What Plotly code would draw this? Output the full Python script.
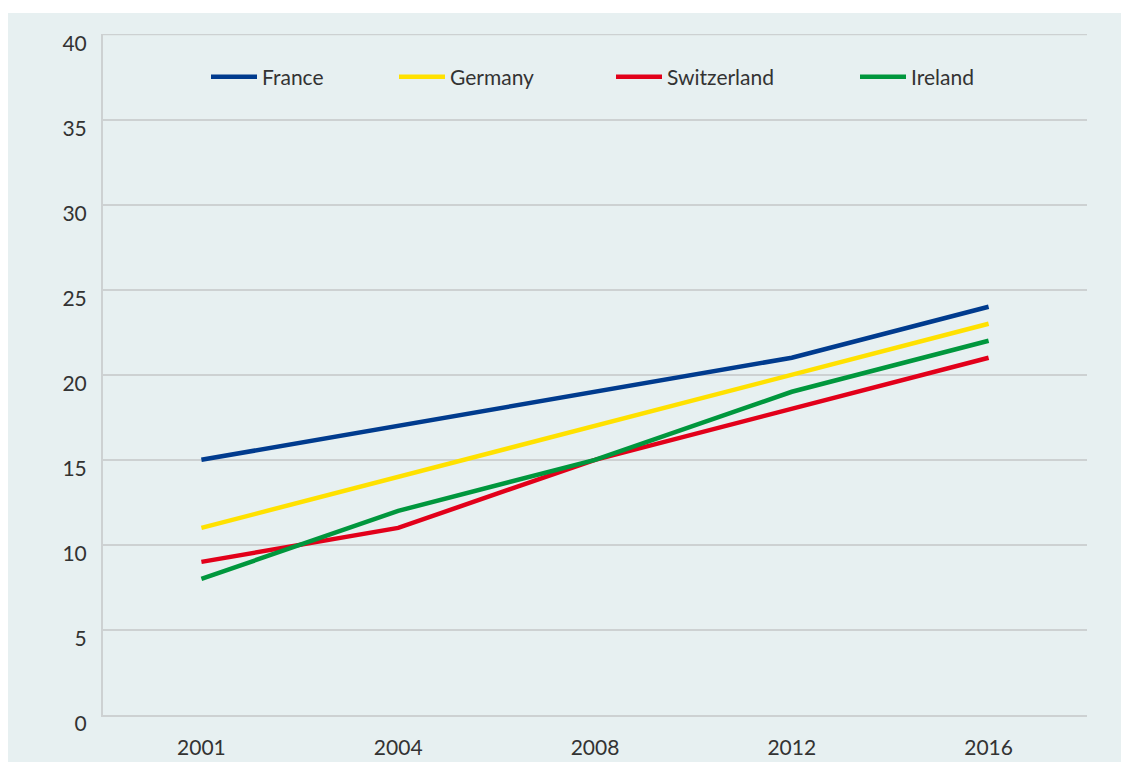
import plotly.graph_objects as go

years = ["2001", "2004", "2008", "2012", "2016"]
france = [15, 17, 19, 21, 24]
germany = [11, 14, 17, 20, 23]
switzerland = [9, 11, 15, 18, 21]
ireland = [8, 12, 15, 19, 22]
y_ticks = [0, 5, 10, 15, 20, 25, 30, 35, 40]

series = [
    ("France", france, "#003b8e"),
    ("Germany", germany, "#ffe100"),
    ("Switzerland", switzerland, "#e2001a"),
    ("Ireland", ireland, "#00973d"),
]

OFF = 8  # page body offset
W, H = 1129, 762
L = 103 - OFF
T = 34 - OFF
R = W - (1087 - OFF)
B = H - (715 - OFF)
pw = W - L - R
ph = H - T - B

BG = "#e7f0f1"
GRID = "#cdd1d2"
FONT = "Lato"
TXT = "#333333"

fig = go.Figure()
legend_px = [212, 400, 617, 861]
legend_names = ["legend", "legend2", "legend3", "legend4"]
for (name, vals, col), lg in zip(series, legend_names):
    fig.add_trace(go.Scatter(x=years, y=vals, name=name, mode="lines",
                             line=dict(color=col, width=4.5),
                             legend=lg))

layout_legends = {}
for px, lg in zip(legend_px, legend_names):
    layout_legends[lg] = dict(
        x=(px - OFF - 6 - L) / pw, xanchor="left",
        y=(715 - 77) / ph, yanchor="middle",
        orientation="h", bgcolor="rgba(0,0,0,0)",
        font=dict(family=FONT, size=21, color=TXT),
        itemwidth=46,
    )

fig.update_layout(
    width=W, height=H,
    margin=dict(l=L, r=R, t=T, b=B, pad=0),
    paper_bgcolor=BG,
    plot_bgcolor=BG,
    showlegend=True,
    **layout_legends,
    shapes=[
        dict(type="rect", xref="paper", yref="paper",
             x0=-0.2, x1=1.2, y0=(715 - 13) / ph, y1=1.2,
             fillcolor="white", line=dict(width=0), layer="below"),
        dict(type="line", xref="paper", yref="y",
             x0=0, x1=1, y0=y_ticks[-1], y1=y_ticks[-1],
             line=dict(color=GRID, width=1.5), layer="below"),
    ],
)

fig.update_xaxes(type="category", range=[-0.5, 4.5], showgrid=False,
                 automargin=False,
                 showline=True, linecolor=GRID, linewidth=2,
                 ticks="outside", ticklen=13, tickcolor="rgba(0,0,0,0)",
                 tickfont=dict(family=FONT, size=21, color=TXT))
fig.update_yaxes(range=[0, 40.03], tickvals=y_ticks, showgrid=True,
                 automargin=False,
                 gridcolor=GRID, gridwidth=1.5, zeroline=False,
                 showline=True, linecolor=GRID, linewidth=2,
                 ticks="outside", ticklen=10, tickcolor="rgba(0,0,0,0)",
                 ticklabelshift=9,
                 tickfont=dict(family=FONT, size=21, color=TXT))

fig.write_html("out.html")
